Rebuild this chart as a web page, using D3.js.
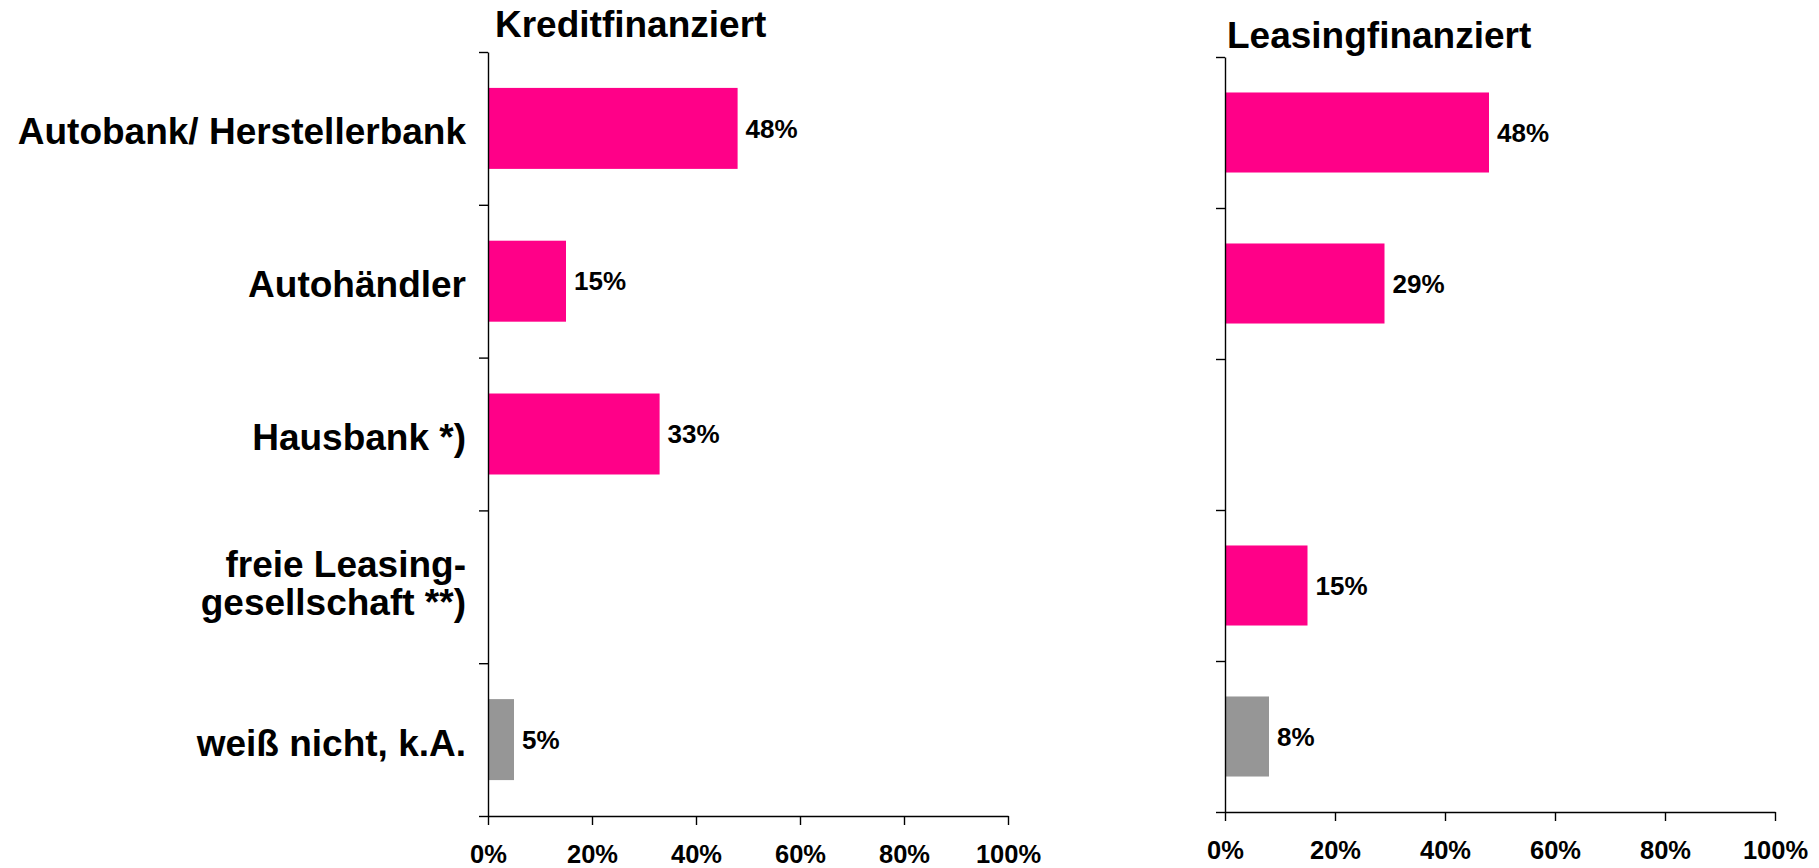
<!DOCTYPE html>
<html>
<head>
<meta charset="utf-8">
<script src="https://cdn.jsdelivr.net/npm/d3@7"></script>
<style>
  body { margin: 0; background: #fff; }
  text { font-family: Arial, "Liberation Sans", sans-serif; font-weight: bold; fill: #000; }
  .axis path, .axis line { stroke: #000; stroke-width: 1.4; }
</style>
</head>
<body>
<script>
// data
var categories = ["Autobank/ Herstellerbank", "Autohändler", "Hausbank *)", "freie Leasing-|gesellschaft **)", "weiß nicht, k.A."];
var kreditValues = [48, 15, 33, null, 5];
var leasingValues = [48, 29, null, 15, 8];
var barColors = ["#ff0088", "#ff0088", "#ff0088", "#ff0088", "#969696"];
var xTicks = [0, 20, 40, 60, 80, 100];

var width = 1819,
    height = 868;

var svg = d3.select("body").append("svg")
  .attr("width", width)
  .attr("height", height);

var panels = [
  {title: "Kreditfinanziert", values: kreditValues, x0: 488, x1: 1008, top: 52, bottom: 816, titleX: 495, titleY: 37},
  {title: "Leasingfinanziert", values: leasingValues, x0: 1225, x1: 1775, top: 57, bottom: 812, titleX: 1227, titleY: 48}
];

panels.forEach(function(p, pi) {
  var x = d3.scaleLinear().domain([0, 100]).range([p.x0, p.x1]);
  var y = d3.scaleBand()
    .domain(categories)
    .range([p.top, p.bottom])
    .paddingInner(0.47)
    .paddingOuter(0.235);
  var yb = d3.scaleLinear().domain([0, categories.length]).range([p.top, p.bottom]);

  var g = svg.append("g");

  // bars
  g.selectAll("rect")
    .data(p.values.map(function(v, i) { return {cat: categories[i], v: v, i: i}; })
      .filter(function(d) { return d.v != null; }))
    .enter()
  .append("rect")
    .attr("x", x(0))
    .attr("y", function(d) { return y(d.cat); })
    .attr("width", function(d) { return x(d.v) - x(0); })
    .attr("height", y.bandwidth())
    .attr("fill", function(d) { return barColors[d.i]; });

  // value labels
  g.selectAll(".val")
    .data(p.values.map(function(v, i) { return {cat: categories[i], v: v}; })
      .filter(function(d) { return d.v != null; }))
    .enter()
  .append("text")
    .attr("class", "val")
    .attr("x", function(d) { return x(d.v) + 8; })
    .attr("y", function(d) { return y(d.cat) + y.bandwidth() / 2; })
    .attr("dy", "0.35em")
    .style("font-size", "26px")
    .text(function(d) { return d.v + "%"; });

  // y axis with ticks between categories
  g.append("g")
    .attr("class", "axis")
    .attr("transform", "translate(" + p.x0 + ",0)")
    .call(d3.axisLeft(yb).tickValues(d3.range(categories.length + 1)).tickSize(9).tickSizeOuter(0).tickFormat(""));

  // x axis
  var xa = g.append("g")
    .attr("class", "axis")
    .attr("transform", "translate(0," + p.bottom + ")")
    .call(d3.axisBottom(x).tickValues(xTicks).tickSize(9).tickSizeOuter(0).tickFormat(function(d) { return d + "%"; }));
  xa.selectAll("text")
    .attr("y", 47)
    .attr("dy", 0)
    .style("font-size", "25.5px")
    .style("font-family", "Arial, 'Liberation Sans', sans-serif")
    .style("font-weight", "bold")
    .attr("fill", "#000");

  // title
  svg.append("text")
    .attr("x", p.titleX)
    .attr("y", p.titleY)
    .style("font-size", "37px")
    .text(p.title);

  // category labels on the left panel
  if (pi == 0) {
    var lab = svg.selectAll(".cat")
      .data(categories)
      .enter()
    .append("text")
      .attr("class", "cat")
      .attr("text-anchor", "end")
      .style("font-size", "37px")
      .attr("transform", function(d) { return "translate(466," + (y(d) + y.bandwidth() / 2) + ")"; });
    lab.each(function(d) {
      var lines = d.split("|");
      var t = d3.select(this);
      lines.forEach(function(l, li) {
        t.append("tspan")
          .attr("x", 0)
          .attr("y", lines.length == 1 ? 16 : (li == 0 ? -10 : 28))
          .text(l);
      });
    });
  }
});
</script>
</body>
</html>
